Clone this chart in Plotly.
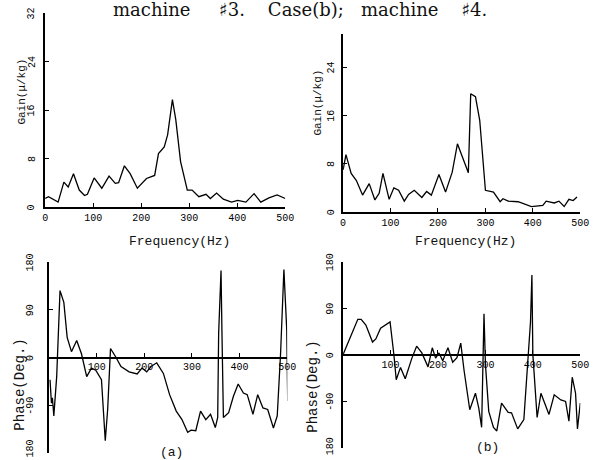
import plotly.graph_objects as go

# ---- data ----
freq_gain_a = [0, 7, 27, 39, 48, 59, 71, 82, 88, 102, 118, 133, 146, 153, 165, 177, 192, 211, 228, 236,
               248, 255, 265, 272, 282, 296, 306, 320, 335, 344, 357, 371, 388, 401, 418, 435, 449, 466, 483, 500]
gain_a = [1.4, 1.7, 0.8, 4.1, 3.3, 5.5, 2.8, 1.9, 2.1, 4.8, 3.1, 5.1, 3.9, 4.0, 6.8, 5.5, 3.1, 4.7, 5.2, 8.8,
          9.9, 11.9, 17.7, 14.4, 7.5, 2.8, 2.8, 1.7, 2.1, 1.4, 2.3, 1.3, 0.8, 1.1, 0.8, 2.2, 0.8, 1.5, 2.0, 1.4]

freq_gain_b = [0, 6, 17, 28, 41, 55, 67, 76, 84, 97, 107, 117, 129, 138, 150, 166, 176, 186, 202, 216,
               230, 241, 264, 269, 279, 288, 300, 307, 317, 331, 337, 348, 369, 397, 421, 428, 445, 455,
               466, 476, 485, 493]
gain_b = [7.0, 9.5, 6.4, 5.2, 2.8, 4.7, 2.0, 3.1, 6.4, 2.1, 4.0, 3.6, 1.8, 2.9, 3.6, 2.4, 3.4, 2.8, 6.2, 3.3,
          6.6, 11.3, 6.5, 19.6, 19.1, 15.2, 3.6, 3.5, 3.3, 1.7, 2.2, 1.8, 1.7, 0.9, 1.1, 1.8, 1.5, 1.8,
          0.9, 2.1, 1.9, 2.5]

freq_phase_a = [2, 5, 7, 10, 16, 19, 23, 31, 38, 47, 58, 68, 79, 89, 98, 110, 118, 123, 129, 140, 151,
                168, 185, 195, 205, 214, 226, 240, 253, 267, 279, 291, 298, 308, 318, 329, 339, 349, 354,
                356, 361, 363, 366, 377, 387, 397, 408, 416, 428, 438, 449, 459, 471, 479, 486, 493, 499, 501]
phase_a = [-42, -86, -76, -110, -36, 51, 126, 104, 38, 11, 32, 7, -36, -20, -24, -42, -157, -98, 17, 1, -17,
           -27, -31, -20, -27, -17, -10, -30, -70, -101, -117, -141, -137, -138, -101, -117, -107, -132, -113,
           45, 164, 45, -113, -104, -73, -50, -67, -70, -107, -70, -95, -98, -133, -110, 7, 166, 51, -82]

freq_phase_b = [0, 14, 31, 38, 48, 62, 69, 79, 99, 107, 112, 121, 131, 145, 155, 166, 179, 188, 195, 202,
                210, 221, 231, 240, 248, 255, 267, 279, 286, 292, 297, 300, 307, 317, 324, 334, 348, 355,
                368, 381, 395, 398, 400, 409, 417, 434, 445, 459, 469, 476, 483, 490, 494, 500]
phase_b = [1, 33, 69, 69, 58, 25, 31, 52, 64, 1, -48, -24, -46, -6, 17, 4, -23, 14, -6, 4,
           -11, 14, -14, -5, 23, -30, -106, -74, -103, -140, 80, -18, -109, -140, -147, -93, -111, -112,
           -143, -125, 64, 155, 1, -121, -74, -115, -77, -87, -90, -128, -43, -74, -143, -93]

gain_ticks_a = [0, 8, 16, 24, 32]
gain_ticks_b = [0, 8, 16, 24]
freq_ticks = [0, 100, 200, 300, 400, 500]
freq_ticks_phase = [100, 200, 300, 400, 500]
phase_ticks = [-180, -90, 0, 90, 180]
phase_ticktext = ["180", "-90", "0", "90", "180"]

W, H = 604, 460
def fx(px):
    return px / W
def fy(py):
    return 1 - py / H

mono = "Liberation Mono"
tickfont = dict(family=mono, size=10, color="black")

fig = go.Figure()
line = dict(color="black", width=1.3)
fig.add_trace(go.Scatter(x=freq_gain_a, y=gain_a, mode="lines", line=line, xaxis="x", yaxis="y"))
fig.add_trace(go.Scatter(x=freq_gain_b, y=gain_b, mode="lines", line=line, xaxis="x2", yaxis="y2"))
fig.add_trace(go.Scatter(x=freq_phase_a, y=phase_a, mode="lines", line=line, xaxis="x3", yaxis="y3"))
fig.add_trace(go.Scatter(x=freq_phase_b, y=phase_b, mode="lines", line=line, xaxis="x4", yaxis="y4"))

ax_common = dict(showgrid=False, zeroline=False, showline=True, linecolor="black", linewidth=1.8,
                 ticks="inside", ticklen=4, tickcolor="black", tickfont=tickfont)

# domains
d1x = [fx(43), fx(288)]; d1y = [fy(207), fy(13)]
d2x = [fx(347), fx(589)]; d2y = [fy(212), fy(34)]
d3x = [fx(47), fx(290)]; d3y = [fy(453), fy(262)]
d4x = [fx(347), fx(589)]; d4y = [fy(448), fy(262)]

fig.update_layout(
    width=W, height=H, margin=dict(l=0, r=0, t=0, b=0),
    paper_bgcolor="white", plot_bgcolor="white", showlegend=False,
    xaxis=dict(domain=d1x, anchor="y", range=[0, 500], tickvals=freq_ticks, **ax_common),
    yaxis=dict(domain=d1y, anchor="x", range=[0, 32], tickvals=gain_ticks_a, showticklabels=False,
               **ax_common),
    xaxis2=dict(domain=d2x, anchor="y2", range=[0, 500], tickvals=freq_ticks, **ax_common),
    yaxis2=dict(domain=d2y, anchor="x2", range=[0, 29.5], tickvals=gain_ticks_b, showticklabels=False,
                **ax_common),
    xaxis3=dict(domain=d3x, anchor="free", position=(d3y[0] + d3y[1]) / 2, range=[0, 500],
                tickvals=freq_ticks_phase, **ax_common),
    yaxis3=dict(domain=d3y, anchor="x3", range=[-180, 180], tickvals=phase_ticks, showticklabels=False,
                **ax_common),
    xaxis4=dict(domain=d4x, anchor="free", position=(d4y[0] + d4y[1]) / 2, range=[0, 500],
                tickvals=freq_ticks_phase, **ax_common),
    yaxis4=dict(domain=d4y, anchor="x4", range=[-180, 180], tickvals=phase_ticks, showticklabels=False,
                **ax_common),
)

# rotated y tick labels, placed on the data scale of each y axis
def ylabels(yref, vals, texts, xpx, bottom_shift=0):
    for i, (v, t) in enumerate(zip(vals, texts)):
        fig.add_annotation(text=t, x=fx(xpx), y=v, xref="paper", yref=yref, showarrow=False,
                           textangle=-90, font=tickfont, xanchor="center", yanchor="middle",
                           yshift=bottom_shift if i == 0 else 0)

ylabels("y", gain_ticks_a, [str(v) for v in gain_ticks_a], 30)
ylabels("y2", gain_ticks_b, [str(v) for v in gain_ticks_b], 335)
ylabels("y3", phase_ticks, phase_ticktext, 28, bottom_shift=5)
ylabels("y4", phase_ticks, phase_ticktext, 334, bottom_shift=2)

def ann(text, x, y, size=11, angle=0, family=mono):
    fig.add_annotation(text=text, x=fx(x), y=fy(y), xref="paper", yref="paper", showarrow=False,
                       textangle=angle, font=dict(family=family, size=size, color="#111"),
                       xanchor="center", yanchor="middle")

sp = "\u00a0"
title = "machine" + sp * 5 + "\u266f3." + sp * 4 + "Case(b);" + sp * 3 + "machine" + sp * 4 + "\u266f4."
ann(title, 303, 10, size=18, family="DejaVu Serif")
ann("Gain(\u03bc/kg)", 19, 92, size=11, angle=-90)
ann("Gain(\u03bc/kg)", 321, 103, size=11, angle=-90)
ann("Frequency(Hz)", 180, 242, size=13)
ann("Frequency(Hz)", 472, 242, size=13)
ann("Phase(Deg.)", 17, 385, size=14, angle=-90)
ann("Phase(Deg.)", 316, 387, size=14, angle=-90)
ann("(a)", 172, 452, size=13)
ann("(b)", 494, 447, size=13)

fig.write_html("out.html")
